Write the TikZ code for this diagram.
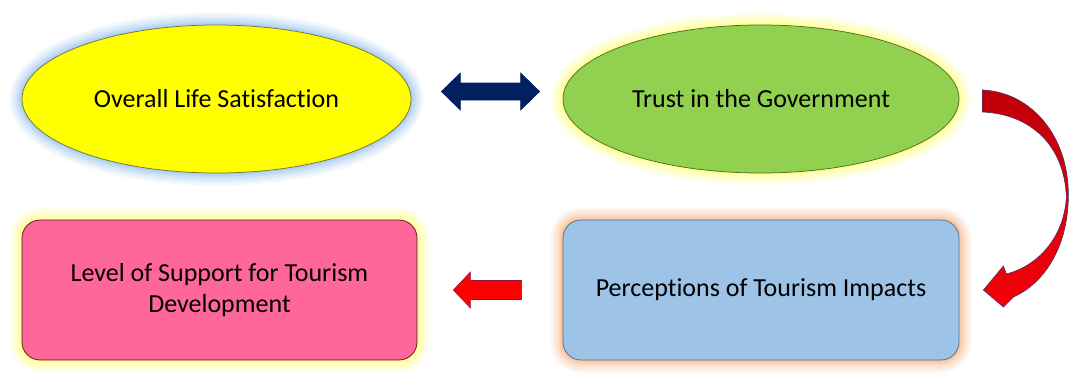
\documentclass[tikz,border=0pt]{standalone}
\usepackage{fontspec}
\setmainfont{Carlito}[Ligatures=NoCommon]
\usetikzlibrary{shapes.geometric,calc}

\definecolor{lifefill}{RGB}{255,255,0}
\definecolor{lifeedge}{RGB}{120,120,40}
\definecolor{trustfill}{RGB}{146,208,80}
\definecolor{trustedge}{RGB}{80,110,50}
\definecolor{supportfill}{RGB}{255,102,153}
\definecolor{supportedge}{RGB}{90,20,45}
\definecolor{percfill}{RGB}{157,195,230}
\definecolor{percedge}{RGB}{80,110,150}
\definecolor{glowblue}{RGB}{140,190,240}
\definecolor{glowyellow}{RGB}{255,255,110}
\definecolor{gloworange}{RGB}{248,175,120}
\definecolor{navy}{RGB}{0,32,96}
\definecolor{arrowred}{RGB}{255,0,0}
\definecolor{arrowedge}{RGB}{150,20,50}
\definecolor{curvetop}{RGB}{190,0,10}
\definecolor{curvebottom}{RGB}{245,0,10}
\definecolor{curveedge}{RGB}{80,50,100}

\begin{document}
\begin{tikzpicture}[x=1pt,y=-1pt,
  glow/.style={
    preaction={draw=#1,draw opacity=.10,line width=25pt},
    preaction={draw=#1,draw opacity=.13,line width=20pt},
    preaction={draw=#1,draw opacity=.16,line width=15pt},
    preaction={draw=#1,draw opacity=.20,line width=10pt},
    preaction={draw=#1,draw opacity=.24,line width=6pt},
    preaction={draw=#1,draw opacity=.26,line width=3pt}},
  nodetext/.style={font=\fontsize{26}{31}\selectfont, text=black},
  ovalbox/.style={ellipse, inner sep=0pt, line width=.75pt, nodetext},
  roundbox/.style={rectangle, rounded corners=18pt, inner sep=0pt,
    line width=.75pt, align=center, nodetext},
  navyblock/.style={fill=navy, draw=navy, line width=.6pt},
  redblock/.style={fill=arrowred, draw=arrowedge, line width=.6pt},
  curveblock/.style={top color=curvetop, bottom color=curvebottom,
    draw=curveedge, line width=.6pt},
]
\fill[white] (0,0) rectangle (1070,372);
\useasboundingbox (0,0) rectangle (1070,372);

% the four concepts
\node[ovalbox, glow=glowblue, fill=lifefill, draw=lifeedge,
      minimum width=389pt, minimum height=148pt] (ols) at (216.5,99)
      {Overall Life Satisfaction};
\node[ovalbox, glow=glowyellow, fill=trustfill, draw=trustedge,
      minimum width=396pt, minimum height=148pt] (trust) at (761,99)
      {Trust in the Government};
\node[roundbox, glow=glowyellow, fill=supportfill, draw=supportedge,
      minimum width=395pt, minimum height=140pt] (support) at (219.5,290)
      {Level of Support for Tourism\\Development};
\node[roundbox, glow=gloworange, fill=percfill, draw=percedge,
      minimum width=396pt, minimum height=140pt] (perc) at (761,290)
      {Perceptions of Tourism Impacts};

% two-way block arrow between the ovals
\path ($(ols.east)+(30,-7.5)$) coordinate (dl)
      ($(trust.west)+(-23,-7.5)$) coordinate (dr);
\draw[navyblock] (dl) -- ++(19,-18.5) -- ++(0,10) -- ($(dr)+(-19,-8.5)$)
  -- ++(0,-10) -- (dr) -- ++(-19,18.5) -- ++(0,-10) -- ($(dl)+(19,8.5)$)
  -- ++(0,10) -- cycle;

% curved block arrow from trust down to perceptions
\begin{scope}[shift={(trust.east)}]
\draw[curveblock] (23,-9)
  .. controls (71,-7) and (109,36) .. (109,96)
  .. controls (109,146) and (86,184) .. (54,198)
  -- (44,208) -- (24,191) -- (44,167) -- (47,175)
  .. controls (81,166) and (105,136) .. (107,98)
  .. controls (105,46) and (71,15) .. (23,13) -- cycle;
\end{scope}

% block arrow from perceptions to support
\path ($(support.east)+(36,0)$) coordinate (lt)
      ($(perc.west)+(-41,0)$) coordinate (lb);
\draw[redblock] (lt) -- ++(17,-18) -- ++(0,8.5) -- ($(lb)+(0,-9.5)$)
  -- ++(0,19) -- ($(lt)+(17,9.5)$) -- ++(0,8.5) -- cycle;
\end{tikzpicture}
\end{document}
